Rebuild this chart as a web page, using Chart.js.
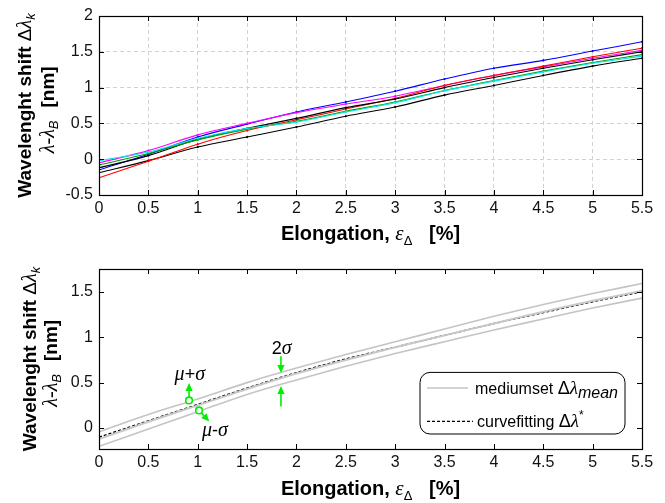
<!DOCTYPE html>
<html><head><meta charset="utf-8">
<script src="https://cdn.jsdelivr.net/npm/chart.js@4.4.1/dist/chart.umd.min.js"></script>
<style>html,body{margin:0;padding:0;background:#fff;}canvas{display:block;}</style>
</head><body>
<canvas id="topChart" width="665" height="250"></canvas>
<canvas id="botChart" width="665" height="253"></canvas>
<script>
// ---------- data ----------
const elongation = [0, 0.5, 1, 1.5, 2, 2.5, 3, 3.5, 4, 4.5, 5, 5.5];
const xTickValues = [0, 0.5, 1, 1.5, 2, 2.5, 3, 3.5, 4, 4.5, 5, 5.5];
const xTickLabels = ['0','0.5','1','1.5','2','2.5','3','3.5','4','4.5','5','5.5'];
const topYTickValues = [-0.5, 0, 0.5, 1, 1.5, 2];
const topYTickLabels = ['-0.5','0','0.5','1','1.5','2'];
const botYTickValues = [0, 0.5, 1, 1.5];
const botYTickLabels = ['0','0.5','1','1.5'];

// top panel: individual sensor shifts
const shiftCyan    = [-0.02, 0.10, 0.29, 0.43, 0.52, 0.66, 0.79, 0.955, 1.09, 1.22, 1.34, 1.44];
const shiftGreen   = [-0.08, 0.08, 0.27, 0.42, 0.53, 0.67, 0.80, 0.96, 1.10, 1.23, 1.35, 1.46];
const shiftBlack1  = [-0.12, 0.05, 0.28, 0.43, 0.57, 0.72, 0.84, 1.00, 1.14, 1.27, 1.39, 1.50];
const shiftBlack2  = [-0.19, -0.02, 0.17, 0.31, 0.45, 0.60, 0.73, 0.895, 1.03, 1.17, 1.30, 1.41];
const shiftRed     = [-0.26, -0.03, 0.21, 0.40, 0.55, 0.70, 0.85, 1.03, 1.17, 1.30, 1.43, 1.55];
const shiftMagenta = [-0.05, 0.12, 0.34, 0.50, 0.65, 0.77, 0.88, 1.03, 1.17, 1.29, 1.41, 1.52];
const shiftBlue    = [-0.15, 0.07, 0.31, 0.49, 0.66, 0.80, 0.95, 1.12, 1.27, 1.38, 1.51, 1.64];

// bottom panel
const meanPlusSigma  = [-0.04, 0.15, 0.32, 0.50, 0.66, 0.81, 0.95, 1.09, 1.23, 1.36, 1.48, 1.59];
const meanMinusSigma = [-0.20, -0.01, 0.18, 0.37, 0.53, 0.68, 0.82, 0.95, 1.08, 1.20, 1.32, 1.43];
const meanShift      = [-0.12, 0.07, 0.25, 0.43, 0.60, 0.75, 0.89, 1.02, 1.15, 1.28, 1.40, 1.51];
const curveFit       = [-0.10, 0.08, 0.26, 0.44, 0.61, 0.76, 0.89, 1.02, 1.15, 1.27, 1.39, 1.50];

// annotation anchors (data coordinates)
const sigmaCircles = [[0.912, 0.304], [1.013, 0.194]];
const sigmaArrows  = [[0.912, 0.304, 0.912, 0.496], [1.013, 0.194, 1.117, 0.073],
                      [1.843, 0.79, 1.843, 0.606], [1.843, 0.238, 1.843, 0.463]];
const sigmaLabels  = [['mu+', 0.92, 0.59], ['mu-', 1.175, -0.02], ['two', 1.85, 0.88]];

// ---------- helpers ----------
const SANS = '"Liberation Sans", Arial, sans-serif';
const SERIF = '"Liberation Serif", "Times New Roman", serif';
const pts = ys => elongation.map((x, i) => ({x: x, y: ys[i]}));

function richWidth(ctx, segs) {
  let w = 0;
  for (const s of segs) { ctx.font = s.f; w += ctx.measureText(s.t).width + (s.gap || 0); }
  return w;
}
function drawRich(ctx, segs, x, y, align) {
  const w = richWidth(ctx, segs);
  let cx = align === 'center' ? x - w / 2 : (align === 'right' ? x - w : x);
  ctx.textAlign = 'left'; ctx.textBaseline = 'alphabetic';
  for (const s of segs) {
    ctx.font = s.f;
    ctx.fillText(s.t, cx, y + (s.dy || 0));
    cx += ctx.measureText(s.t).width + (s.gap || 0);
  }
}
function xTitleSegs() {
  return [
    {t: 'Elongation, ', f: 'bold 20px ' + SANS},
    {t: 'ε', f: 'italic 21px ' + SERIF},
    {t: 'Δ', f: '13px ' + SANS, dy: 5},
    {t: '   [%]', f: 'bold 20px ' + SANS}
  ];
}
function drawYTitle(ctx, x1, x2, cy) {
  ctx.save();
  ctx.fillStyle = '#000';
  ctx.translate(x1, cy);
  ctx.rotate(-Math.PI / 2);
  drawRich(ctx, [
    {t: 'Wavelenght shift ', f: 'bold 19px ' + SANS},
    {t: 'Δ', f: '19px ' + SANS},
    {t: 'λ', f: 'italic 20px ' + SERIF},
    {t: 'k', f: 'italic 13px ' + SANS, dy: 4}
  ], 0, 7, 'center');
  ctx.restore();
  ctx.save();
  ctx.fillStyle = '#000';
  ctx.translate(x2, cy);
  ctx.rotate(-Math.PI / 2);
  drawRich(ctx, [
    {t: 'λ-λ', f: 'italic 20px ' + SERIF},
    {t: 'B', f: 'italic 13px ' + SANS, dy: 4}
  ], -15, 7, 'right');
  drawRich(ctx, [{t: '[nm]', f: 'bold 19px ' + SANS}], -2, 7, 'left');
  ctx.restore();
}
function drawFrame(chart) {
  const ctx = chart.ctx, a = chart.chartArea;
  const xs = chart.scales.x, ys = chart.scales.y;
  ctx.save();
  ctx.strokeStyle = '#000';
  ctx.lineWidth = 1;
  ctx.setLineDash([]);
  ctx.beginPath();
  for (const t of xs.ticks) {
    const px = Math.round(xs.getPixelForValue(t.value)) + 0.5;
    ctx.moveTo(px, a.bottom); ctx.lineTo(px, a.bottom - 5);
    ctx.moveTo(px, a.top); ctx.lineTo(px, a.top + 5);
  }
  for (const t of ys.ticks) {
    const py = Math.round(ys.getPixelForValue(t.value)) + 0.5;
    ctx.moveTo(a.left, py); ctx.lineTo(a.left + 5, py);
    ctx.moveTo(a.right, py); ctx.lineTo(a.right - 5, py);
  }
  ctx.stroke();
  ctx.lineWidth = 1.2;
  ctx.strokeRect(Math.round(a.left) + 0.5, Math.round(a.top) + 0.5,
                 Math.round(a.right - a.left), Math.round(a.bottom - a.top));
  ctx.restore();
}
function arrow(ctx, x1, y1, x2, y2) {
  const ang = Math.atan2(y2 - y1, x2 - x1), L = 8, W = 3.6;
  const bx = x2 - L * Math.cos(ang), by = y2 - L * Math.sin(ang);
  ctx.beginPath(); ctx.moveTo(x1, y1); ctx.lineTo(bx, by); ctx.stroke();
  ctx.beginPath();
  ctx.moveTo(x2, y2);
  ctx.lineTo(bx + W * Math.sin(ang), by - W * Math.cos(ang));
  ctx.lineTo(bx - W * Math.sin(ang), by + W * Math.cos(ang));
  ctx.closePath(); ctx.fill();
}

const commonScales = (yMin, yMax, yVals, yLabels, xH, grid) => ({
  x: {
    type: 'linear', min: 0, max: 5.5,
    afterBuildTicks: s => { s.ticks = xTickValues.map(v => ({value: v})); },
    afterFit: s => { s.height = xH; },
    ticks: {padding: 4, color: '#111', font: {family: SANS, size: 16},
            maxRotation: 0, autoSkip: false,
            callback: (v, i) => xTickLabels[i]},
    grid: {display: grid, color: '#d2d2d2', lineWidth: 1, drawTicks: false},
    border: {display: false, dash: [4, 3]}
  },
  y: {
    type: 'linear', min: yMin, max: yMax,
    afterBuildTicks: s => { s.ticks = yVals.map(v => ({value: v})); },
    afterFit: s => { s.width = 99; },
    ticks: {padding: 6, color: '#111', font: {family: SANS, size: 16},
            autoSkip: false, callback: (v, i) => yLabels[i]},
    grid: {display: grid, color: '#d2d2d2', lineWidth: 1, drawTicks: false},
    border: {display: false, dash: [4, 3]}
  }
});

const baseOpts = {
  responsive: false, animation: false, devicePixelRatio: 1, events: [],
  plugins: {legend: {display: false}, tooltip: {enabled: false}}
};

// ---------- top chart ----------
const sensorSet = [
  [shiftCyan, '#00e8e8'], [shiftGreen, '#009900'], [shiftBlack1, '#000000'],
  [shiftRed, '#ff0000'], [shiftMagenta, '#ff00ff'], [shiftBlack2, '#000000'],
  [shiftBlue, '#0000ff']
];
new Chart(document.getElementById('topChart'), {
  type: 'scatter',
  data: {datasets: sensorSet.map(([d, c]) => ({
    data: pts(d), showLine: true, borderColor: c, backgroundColor: c,
    borderWidth: 1.1, pointRadius: 1.1, pointBorderWidth: 0,
    cubicInterpolationMode: 'monotone'
  }))},
  options: Object.assign({}, baseOpts, {
    layout: {padding: {left: 0, right: 23, top: 16, bottom: 0}},
    scales: commonScales(-0.5, 2, topYTickValues, topYTickLabels, 55, true)
  }),
  plugins: [{
    id: 'decorTop',
    afterDraw(chart) {
      drawFrame(chart);
      const ctx = chart.ctx, a = chart.chartArea;
      ctx.save(); ctx.fillStyle = '#000';
      drawRich(ctx, xTitleSegs(), (a.left + a.right) / 2, 240, 'center');
      ctx.restore();
      drawYTitle(ctx, 24, 47, (a.top + a.bottom) / 2);
    }
  }]
});

// ---------- bottom chart ----------
new Chart(document.getElementById('botChart'), {
  type: 'scatter',
  data: {datasets: [
    {data: pts(meanPlusSigma), showLine: true, borderColor: '#c4c4c4', borderWidth: 1.6, pointRadius: 0, cubicInterpolationMode: 'monotone'},
    {data: pts(meanMinusSigma), showLine: true, borderColor: '#c4c4c4', borderWidth: 1.6, pointRadius: 0, cubicInterpolationMode: 'monotone'},
    {data: pts(meanShift), showLine: true, borderColor: '#c8c8c8', borderWidth: 2, pointRadius: 0, cubicInterpolationMode: 'monotone'},
    {data: pts(curveFit), showLine: true, borderColor: '#000', borderWidth: 1.4, borderDash: [3, 2], pointRadius: 0, cubicInterpolationMode: 'monotone'}
  ]},
  options: Object.assign({}, baseOpts, {
    layout: {padding: {left: 0, right: 23, top: 19, bottom: 0}},
    scales: commonScales(-0.23, 1.75, botYTickValues, botYTickLabels, 54, false)
  }),
  plugins: [{
    id: 'decorBot',
    afterDraw(chart) {
      const ctx = chart.ctx, a = chart.chartArea;
      const xs = chart.scales.x, ys = chart.scales.y;
      drawFrame(chart);
      // annotations
      ctx.save();
      ctx.strokeStyle = '#00ee00'; ctx.fillStyle = '#00ee00'; ctx.lineWidth = 1.6;
      for (const [x1, y1, x2, y2] of sigmaArrows) {
        arrow(ctx, xs.getPixelForValue(x1), ys.getPixelForValue(y1),
                   xs.getPixelForValue(x2), ys.getPixelForValue(y2));
      }
      for (const [cx, cy] of sigmaCircles) {
        ctx.beginPath();
        ctx.arc(xs.getPixelForValue(cx), ys.getPixelForValue(cy), 3.3, 0, Math.PI * 2);
        ctx.fillStyle = '#ffffff'; ctx.fill(); ctx.stroke();
      }
      ctx.restore();
      ctx.save(); ctx.fillStyle = '#000';
      const gi = 'italic 20px ' + SERIF, sn = '18px ' + SANS;
      const labelSegs = {
        'mu+': [{t: 'μ', f: gi}, {t: '+', f: sn}, {t: 'σ', f: gi}],
        'mu-': [{t: 'μ', f: gi}, {t: '-', f: sn}, {t: 'σ', f: gi}],
        'two': [{t: '2', f: sn}, {t: 'σ', f: gi}]
      };
      for (const [k, lx, ly] of sigmaLabels) {
        drawRich(ctx, labelSegs[k], xs.getPixelForValue(lx), ys.getPixelForValue(ly) + 6, 'center');
      }
      ctx.restore();
      // legend box
      const bw = 205, bh = 61.6;
      const bx = a.right - 17 - bw, by = a.bottom - 15 - bh, r = 10;
      ctx.save();
      ctx.beginPath();
      ctx.moveTo(bx + r, by); ctx.lineTo(bx + bw - r, by);
      ctx.arcTo(bx + bw, by, bx + bw, by + r, r); ctx.lineTo(bx + bw, by + bh - r);
      ctx.arcTo(bx + bw, by + bh, bx + bw - r, by + bh, r); ctx.lineTo(bx + r, by + bh);
      ctx.arcTo(bx, by + bh, bx, by + bh - r, r); ctx.lineTo(bx, by + r);
      ctx.arcTo(bx, by, bx + r, by, r); ctx.closePath();
      ctx.fillStyle = '#fff'; ctx.fill();
      ctx.strokeStyle = '#000'; ctx.lineWidth = 1; ctx.stroke();
      const l1 = by + 15.6, l2 = by + 49;
      ctx.strokeStyle = '#c4c4c4'; ctx.lineWidth = 1.6;
      ctx.beginPath(); ctx.moveTo(bx + 7, l1); ctx.lineTo(bx + 48, l1); ctx.stroke();
      ctx.strokeStyle = '#000'; ctx.lineWidth = 1.2; ctx.setLineDash([3, 2]);
      ctx.beginPath(); ctx.moveTo(bx + 7, l2); ctx.lineTo(bx + 53, l2); ctx.stroke();
      ctx.setLineDash([]);
      ctx.fillStyle = '#000';
      drawRich(ctx, [
        {t: 'mediumset ', f: '16px ' + SANS},
        {t: 'Δ', f: '18px ' + SANS},
        {t: 'λ', f: 'italic 19px ' + SERIF},
        {t: 'mean', f: 'italic 16px ' + SANS, dy: 4}
      ], bx + 55, l1 + 5.5, 'left');
      drawRich(ctx, [
        {t: 'curvefitting ', f: '16px ' + SANS},
        {t: 'Δ', f: '18px ' + SANS},
        {t: 'λ', f: 'italic 19px ' + SERIF},
        {t: '*', f: '12px ' + SANS, dy: -8}
      ], bx + 57, l2 + 5.5, 'left');
      ctx.restore();
      // axis titles
      ctx.save(); ctx.fillStyle = '#000';
      drawRich(ctx, xTitleSegs(), (a.left + a.right) / 2, 245, 'center');
      ctx.restore();
      drawYTitle(ctx, 29, 50, (a.top + a.bottom) / 2);
    }
  }]
});
</script>
</body></html>
